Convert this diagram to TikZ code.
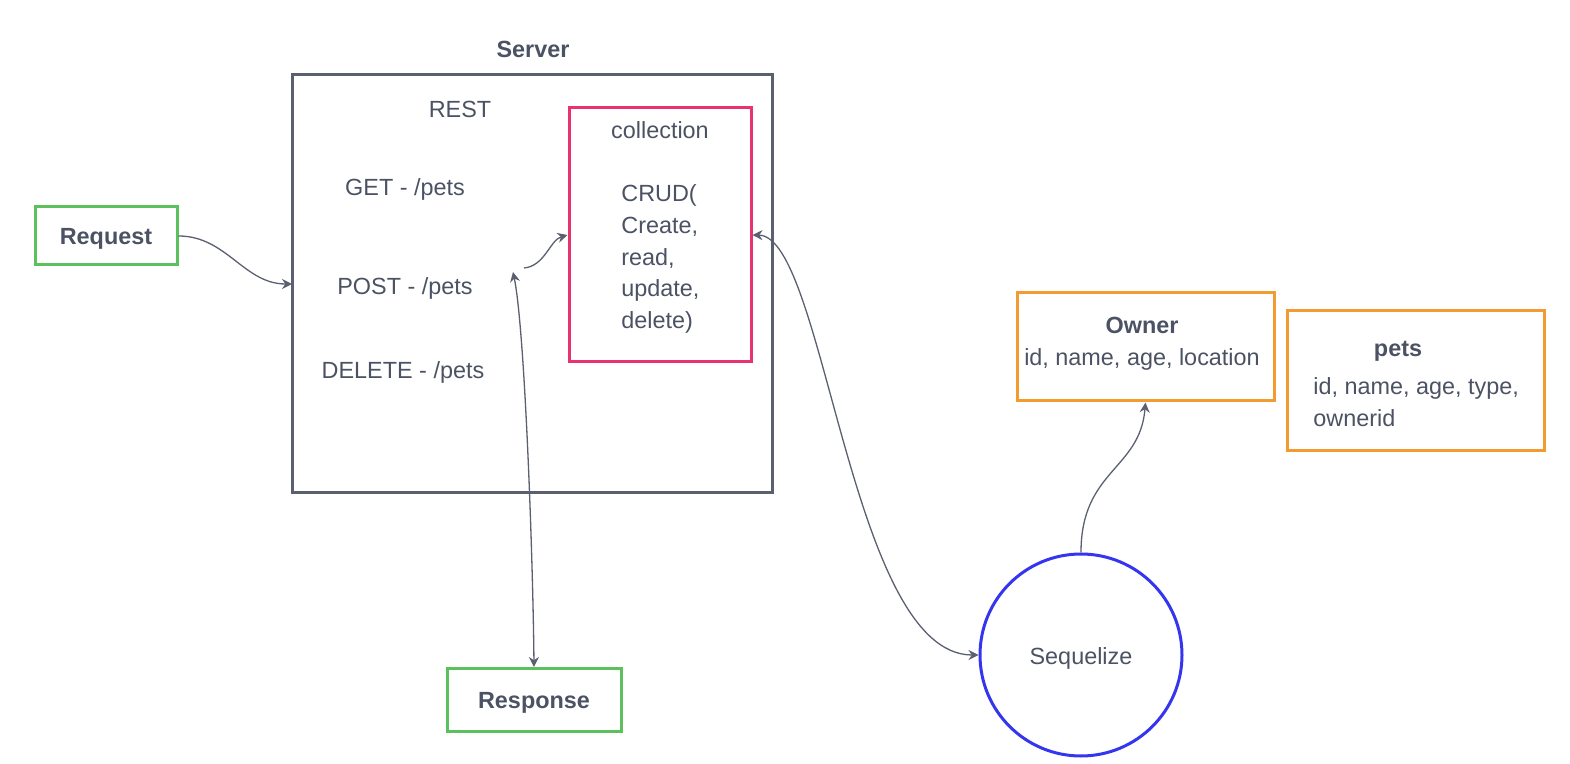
\documentclass[tikz,border=0pt]{standalone}
\usepackage{fontspec}
\setmainfont{Liberation Sans}
\usetikzlibrary{arrows.meta}

\definecolor{txtgray}{HTML}{4B5263}
\definecolor{linegray}{HTML}{5A6070}
\definecolor{boxgreen}{HTML}{5CC05C}
\definecolor{boxpink}{HTML}{E8336E}
\definecolor{boxorange}{HTML}{F29B30}
\definecolor{boxblue}{HTML}{3535F0}

\tikzset{
    lbl/.style={font=\fontsize{11.7}{15.8}\selectfont, text=txtgray, inner sep=0pt, yshift=-1.5pt},
    title/.style={lbl, font=\fontsize{11.7}{15.8}\selectfont\bfseries},
    endbox/.style={draw=boxgreen, line width=1.5pt},
    tablebox/.style={draw=boxorange, line width=1.5pt},
    conn/.style={draw=linegray, line width=0.65pt, -{Stealth[length=5pt,width=5pt]}},
    biconn/.style={conn, {Stealth[length=5pt,width=5pt]}-{Stealth[length=5pt,width=5pt]}}
}

\begin{document}
\begin{tikzpicture}[x=0.5pt, y=-0.5pt]
    \useasboundingbox (0, 0) rectangle (1570, 764);

    % server block
    \node[title] (servertitle) at (533, 46) {Server};
    \draw[draw=linegray, line width=1.5pt] (292, 75) rectangle (772, 493);
    \coordinate (serverleft) at (292, 284);
    \node[lbl] (rest) at (460, 106) {REST};
    \node[lbl] (get) at (405, 186) {GET - /pets};
    \node[lbl] (post) at (405, 285) {POST - /pets};
    \node[lbl] (delete) at (403, 369) {DELETE - /pets};

    % collection
    \node[draw=boxpink, line width=1.5pt, minimum width=91pt, minimum height=127pt] (coll) at (660, 235) {};
    \node[lbl] (colltitle) at (660, 127) {collection};
    \node[lbl, anchor=west, align=left] (crud) at (621, 256) {CRUD(\\Create,\\read,\\update,\\delete)};

    % request / response
    \node[endbox, minimum width=71pt, minimum height=29pt] (request) at (106, 236) {};
    \node[title] (requesttxt) at (106, 236) {Request};
    \node[endbox, minimum width=87pt, minimum height=31.5pt] (response) at (534, 700) {};
    \node[title] (responsetxt) at (534, 700) {Response};

    % tables
    \node[tablebox, minimum width=128.5pt, minimum height=54pt] (owner) at (1145.5, 347) {};
    \node[lbl, align=center] (ownertxt) at (1142, 341) {\textbf{Owner}\\id, name, age, location};
    \node[tablebox, minimum width=128.5pt, minimum height=70pt] (pets) at (1415.5, 381) {};
    \node[title] (petstitle) at (1398, 348) {pets};
    \node[lbl, anchor=west, align=left] (petsfields) at (1313, 399) {id, name, age, type,\\ownerid};

    % orm
    \node[draw=boxblue, line width=1.5pt, circle, minimum size=101pt] (orm) at (1081, 655) {};
    \node[lbl] (ormtxt) at (1081, 655) {Sequelize};

    % connectors
    \coordinate (postout) at (524, 268);
    \coordinate (postin) at (513, 272);
    \draw[conn] (request.east) to[out=0, in=180] (serverleft);
    \draw[conn] (postout) .. controls (545, 266) and (550, 240) .. (coll.west);
    \draw[biconn] (postin) .. controls (525, 330) and (533, 560) .. (response.north);
    \draw[biconn] (coll.east) .. controls (825, 236) and (850, 655) .. (orm.west);
    \draw[conn] (orm.north) .. controls (1081, 470) and (1140, 470) .. (owner.south);
\end{tikzpicture}
\end{document}
